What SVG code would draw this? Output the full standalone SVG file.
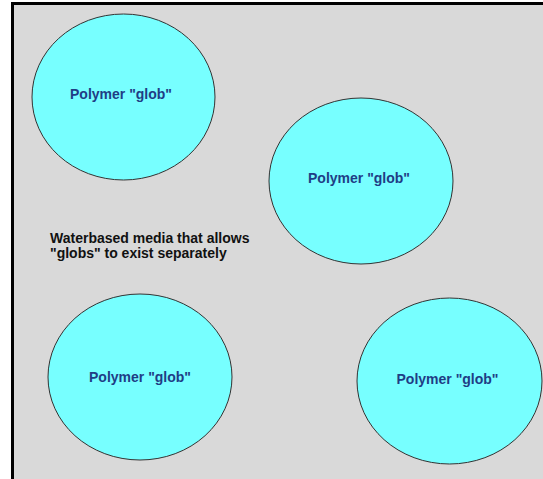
<svg xmlns="http://www.w3.org/2000/svg" width="543" height="479" viewBox="0 0 543 479">
  <style>
    .glob { fill: #77ffff; stroke: #333333; stroke-width: 1; }
    .gl { font-family: "Liberation Sans", Arial, sans-serif; font-size: 14px; font-weight: bold; fill: #1f3d85; text-anchor: middle; }
    .lbl { font-family: "Liberation Sans", Arial, sans-serif; font-size: 14px; font-weight: bold; fill: #111111; }
  </style>
  <rect x="0" y="0" width="543" height="479" fill="#ffffff"/>
  <rect x="11" y="2" width="532" height="477" fill="#d9d9d9"/>
  <line x1="12.5" y1="2" x2="12.5" y2="479" stroke="#000000" stroke-width="3"/>
  <line x1="11" y1="3.5" x2="543" y2="3.5" stroke="#000000" stroke-width="3"/>
  <g id="connectors"></g>
  <g id="glob1">
    <ellipse class="glob" cx="123.5" cy="97" rx="91.5" ry="83"/>
    <text class="gl" x="121" y="99">Polymer "glob"</text>
  </g>
  <g id="glob2">
    <ellipse class="glob" cx="361" cy="181" rx="92" ry="83"/>
    <text class="gl" x="359" y="183">Polymer "glob"</text>
  </g>
  <g id="glob3">
    <ellipse class="glob" cx="140" cy="377" rx="92" ry="83"/>
    <text class="gl" x="140" y="382">Polymer "glob"</text>
  </g>
  <g id="glob4">
    <ellipse class="glob" cx="449.5" cy="381" rx="92.5" ry="83"/>
    <text class="gl" x="447.5" y="384">Polymer "glob"</text>
  </g>
  <g id="media">
    <text class="lbl" x="50" y="243">Waterbased media that allows</text>
    <text class="lbl" x="50" y="258">"globs" to exist separately</text>
  </g>
</svg>
